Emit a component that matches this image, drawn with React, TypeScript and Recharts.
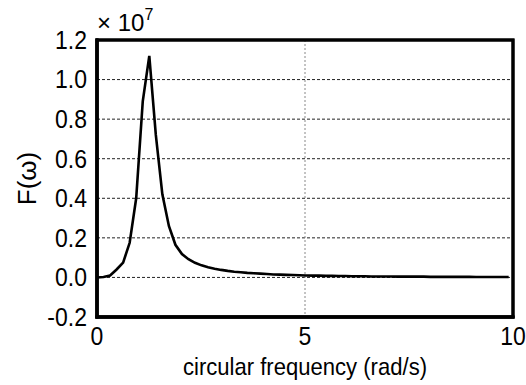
import { LineChart, Line, XAxis, YAxis, CartesianGrid, Label, ReferenceArea } from 'recharts';

// circular frequency samples (rad/s), step ~ pi/20
const OMEGA = [
  0, 0.157, 0.314, 0.471, 0.628, 0.785, 0.942, 1.1, 1.257, 1.414, 1.571, 1.728, 1.885, 2.042, 2.199, 2.356,
  2.513, 2.67, 2.827, 2.985, 3.142, 3.299, 3.456, 3.613, 3.77, 3.927, 4.084, 4.241, 4.398, 4.555, 4.712, 4.869,
  5.027, 5.184, 5.341, 5.498, 5.655, 5.812, 5.969, 6.126, 6.283, 6.44, 6.597, 6.754, 6.912, 7.069, 7.226, 7.383,
  7.54, 7.697, 7.854, 8.011, 8.168, 8.325, 8.482, 8.639, 8.796, 8.954, 9.111, 9.268, 9.425, 9.582, 9.739, 9.896,
];

// F(omega), in units of 1e7
const F_VALUES = [
  0.0, 0.002, 0.01, 0.04, 0.075, 0.175, 0.4, 0.89, 1.12, 0.72, 0.42, 0.26, 0.165, 0.118, 0.092, 0.074,
  0.061, 0.051, 0.044, 0.038, 0.033, 0.029, 0.026, 0.023, 0.021, 0.019, 0.017, 0.015, 0.014, 0.013, 0.012, 0.011,
  0.01, 0.009, 0.009, 0.008, 0.008, 0.007, 0.007, 0.006, 0.006, 0.006, 0.005, 0.005, 0.005, 0.005, 0.004, 0.004,
  0.004, 0.004, 0.004, 0.003, 0.003, 0.003, 0.003, 0.003, 0.003, 0.003, 0.002, 0.002, 0.002, 0.002, 0.002, 0.002,
];

const X_TICKS = [0, 5, 10];
const Y_TICKS = [-0.2, 0, 0.2, 0.4, 0.6, 0.8, 1.0, 1.2];

const data = OMEGA.map((w, i) => ({ w, f: F_VALUES[i] }));

const W = 526;
const H = 385;
const Y_AXIS_W = 97;
const MARGIN = { top: 40, right: 13, bottom: 8, left: 0 };
const PLOT_W = W - MARGIN.left - MARGIN.right - Y_AXIS_W;

const FONT = '"Liberation Sans", Arial, sans-serif';
const SQUEEZE = 0.92; // the original text is a bit condensed
const frameLine = { stroke: '#000', strokeWidth: 3, strokeLinecap: 'square' as const };

function XTick({ x, y, payload }: any) {
  return (
    <text
      transform={`translate(${x},${y}) scale(${SQUEEZE},1)`}
      textAnchor="middle"
      dy="0.71em"
      fontSize={25}
      fontFamily={FONT}
      fill="#000"
    >
      {payload.value}
    </text>
  );
}

function YTick({ x, y, payload }: any) {
  return (
    <text
      transform={`translate(${x},${y}) scale(${SQUEEZE},1)`}
      textAnchor="end"
      dy="0.355em"
      fontSize={25}
      fontFamily={FONT}
      fill="#000"
    >
      {Number(payload.value).toFixed(1)}
    </text>
  );
}

function YDecor(props: any) {
  const vb = props.viewBox;
  const cx = vb.x + 27;
  const cy = vb.y + vb.height / 2;
  const left = vb.x + vb.width;
  return (
    <g>
      {/* plot frame, drawn with the labels so it sits on top */}
      <rect
        x={left}
        y={vb.y}
        width={PLOT_W}
        height={vb.height}
        fill="none"
        stroke="#000"
        strokeWidth={3}
      />
      <line x1={left} y1={vb.y} x2={left} y2={vb.y + vb.height} stroke="#000" strokeWidth={3} strokeLinecap="square" />
      <line
        x1={left}
        y1={vb.y + vb.height}
        x2={left + PLOT_W}
        y2={vb.y + vb.height}
        stroke="#000"
        strokeWidth={3}
        strokeLinecap="square"
      />
      <text
        transform={`translate(${cx},${cy}) rotate(-90)`}
        textAnchor="middle"
        dy="0.355em"
        fontSize={26}
        fontFamily={FONT}
        fill="#000"
      >
        F(ω)
      </text>
      <text x={left} y={vb.y - 9} fontSize={24} fontFamily={FONT} fill="#000">
        × 10
        <tspan dy={-11} fontSize={16}>7</tspan>
      </text>
    </g>
  );
}

function XDecor(props: any) {
  const vb = props.viewBox;
  return (
    <text
      transform={`translate(${vb.x + vb.width / 2},${vb.y + vb.height - 2}) scale(${SQUEEZE},1)`}
      textAnchor="middle"
      fontSize={24}
      fontFamily={FONT}
      fill="#000"
    >
      circular frequency (rad/s)
    </text>
  );
}

export default function App() {
  return (
    <div style={{ position: 'absolute', left: 0, top: 0, background: '#fff' }}>
      <LineChart width={W} height={H} data={data} margin={MARGIN}>
        <CartesianGrid horizontal={true} vertical={false} stroke="#222" strokeDasharray="3 2" />
        <CartesianGrid horizontal={false} vertical={true} stroke="#888" strokeDasharray="2 2" />
        <XAxis
          dataKey="w"
          type="number"
          domain={[0, 10]}
          ticks={X_TICKS}
          height={60}
          axisLine={frameLine}
          tickLine={false}
          tickSize={0}
          tickMargin={10}
          tick={(p: any) => <XTick {...p} />}
        >
          <Label content={(p: any) => <XDecor {...p} />} />
        </XAxis>
        <YAxis
          type="number"
          domain={[-0.2, 1.2]}
          ticks={Y_TICKS}
          width={Y_AXIS_W}
          axisLine={frameLine}
          tickLine={false}
          tickSize={0}
          tickMargin={10}
          tick={(p: any) => <YTick {...p} />}
        >
          <Label content={(p: any) => <YDecor {...p} />} />
        </YAxis>
        <Line
          type="linear"
          dataKey="f"
          stroke="#000"
          strokeWidth={2.6}
          dot={false}
          isAnimationActive={false}
        />
        <ReferenceArea
          x1={0}
          x2={10}
          y1={-0.2}
          y2={1.2}
          fill="#fff"
          fillOpacity={0}
          stroke="#000"
          strokeOpacity={1}
          strokeWidth={3}
          ifOverflow="visible"
        />
      </LineChart>
    </div>
  );
}
